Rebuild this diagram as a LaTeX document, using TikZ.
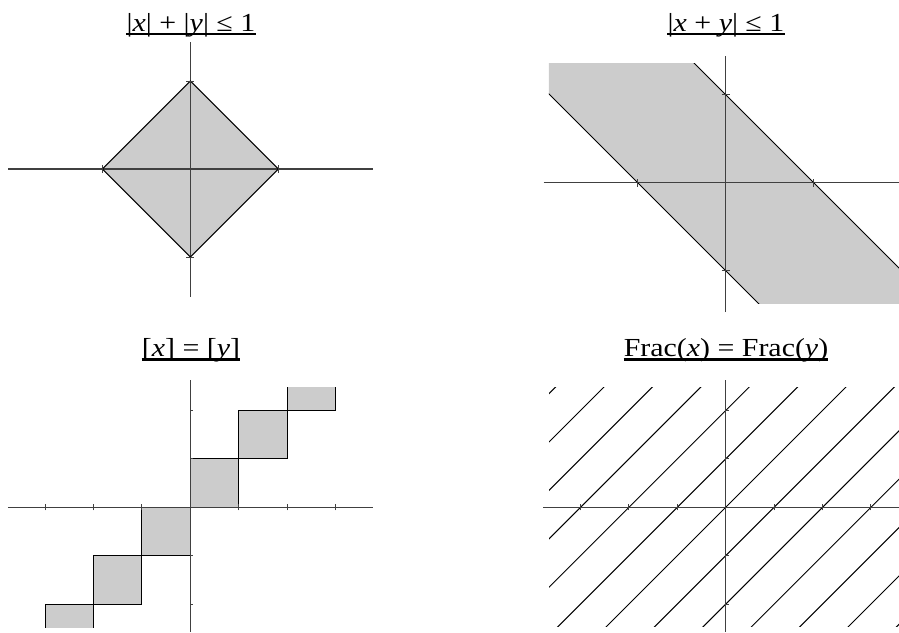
\documentclass[tikz,border=0pt]{standalone}
\usepackage{fontspec}
\usepackage{graphicx}
\setmainfont{Liberation Serif}
\newcommand{\widetext}[1]{\scalebox{1.15}[1]{#1}}
\begin{document}
\begin{tikzpicture}[x=1pt,y=-1pt,
  axis/.style={black!75,line width=1.2pt},
  edge/.style={black,line width=1pt},
  region/.style={fill=black!20},
  tickmark/.style={black!75,line width=1pt},
  title/.style={anchor=base,inner sep=0pt,font=\fontsize{26}{30}\selectfont},
  underbar/.style={black,line width=2.2pt}]
  \useasboundingbox (0,0) rectangle (899,632);
  \node[title] (tA) at (191,31) {\widetext{|\textit{x}| + |\textit{y}| ≤ 1}};
  \node[title] (tB) at (726,31) {\widetext{|\textit{x} + \textit{y}| ≤ 1}};
  \node[title] (tC) at (191,356.5) {\widetext{[\textit{x}] = [\textit{y}]}};
  \node[title] (tD) at (726,356.5) {\widetext{Frac(\textit{x}) = Frac(\textit{y})}};
  \foreach \N in {tA,tB,tC,tD}
    \draw[underbar] ([yshift=-3pt]\N.base west)--([yshift=-3pt]\N.base east);
  % |x|+|y| <= 1
  \begin{scope}[shift={(190.3,169)},x=88pt,y=88pt]
    \coordinate (R) at (1,0);
    \coordinate (T) at (0,1);
    \coordinate (L) at (-1,0);
    \coordinate (B) at (0,-1);
    \fill[region] (R)--(T)--(L)--(B)--cycle;
    \draw[axis] (-2.07,0)--(2.08,0);
    \draw[axis] (0,-1.45)--(0,1.44);
    \draw[edge] (R)--(T)--(L)--(B)--cycle;
    \foreach \P in {R,L} \draw[tickmark] ([yshift=-4pt]\P)--([yshift=4pt]\P);
    \foreach \P in {T,B} \draw[tickmark] ([xshift=-4pt]\P)--([xshift=4pt]\P);
  \end{scope}
  % |x+y| <= 1
  \begin{scope}[shift={(725.7,182.7)},x=88pt,y=88pt]
    \begin{scope}
      \clip (-2.01,-1.37) rectangle (2.05,1.36);
      \fill[region] (-3,4)--(3,-2)--(3,-4)--(-3,2)--cycle;
    \end{scope}
    \draw[axis] (-2.07,0)--(2.1,0);
    \draw[axis] (0,-1.47)--(0,1.44);
    \begin{scope}
      \clip (-2.01,-1.37) rectangle (2.05,1.36);
      \draw[edge] (-3,4)--(3,-2);
      \draw[edge] (-3,2)--(3,-4);
    \end{scope}
    \foreach \t in {-1,1} {
      \draw[tickmark] (\t,0) ++(0,-4pt)--++(0,8pt);
      \draw[tickmark] (0,\t) ++(-4pt,0)--++(8pt,0);
    }
  \end{scope}
  % [x] = [y]
  \begin{scope}[shift={(190.3,507.3)},x=48.4pt,y=48.4pt]
    \begin{scope}
      \clip (-4,-2.48) rectangle (4,2.48);
      \foreach \n in {-3,...,2}
        \draw[edge,region] (\n,\n) rectangle (\n+1,\n+1);
    \end{scope}
    \draw[axis] (-3.77,0)--(3.77,0);
    \draw[axis] (0,-2.57)--(0,2.63);
    \foreach \t in {-3,-2,-1,1,2,3} \draw[tickmark] (\t,0) ++(0,-3pt)--++(0,6pt);
    \foreach \t in {-2,-1,1,2} \draw[tickmark] (0,\t)--++(3pt,0);
  \end{scope}
  % Frac(x) = Frac(y)
  \begin{scope}[shift={(725.7,507.3)},x=48.4pt,y=48.4pt]
    \begin{scope}
      \clip (-3.65,-2.47) rectangle (4,2.48);
      \foreach \k in {-7,...,7}
        \draw[edge] (-4,\k-4)--(4,\k+4);
    \end{scope}
    \draw[axis] (-3.77,0)--(3.8,0);
    \draw[axis] (0,-2.57)--(0,2.63);
    \foreach \t in {-3,-2,-1,1,2,3} \draw[tickmark] (\t,0) ++(0,-3pt)--++(0,6pt);
    \foreach \t in {-2,-1,1,2} \draw[tickmark] (0,\t)--++(3pt,0);
  \end{scope}
\end{tikzpicture}
\end{document}
